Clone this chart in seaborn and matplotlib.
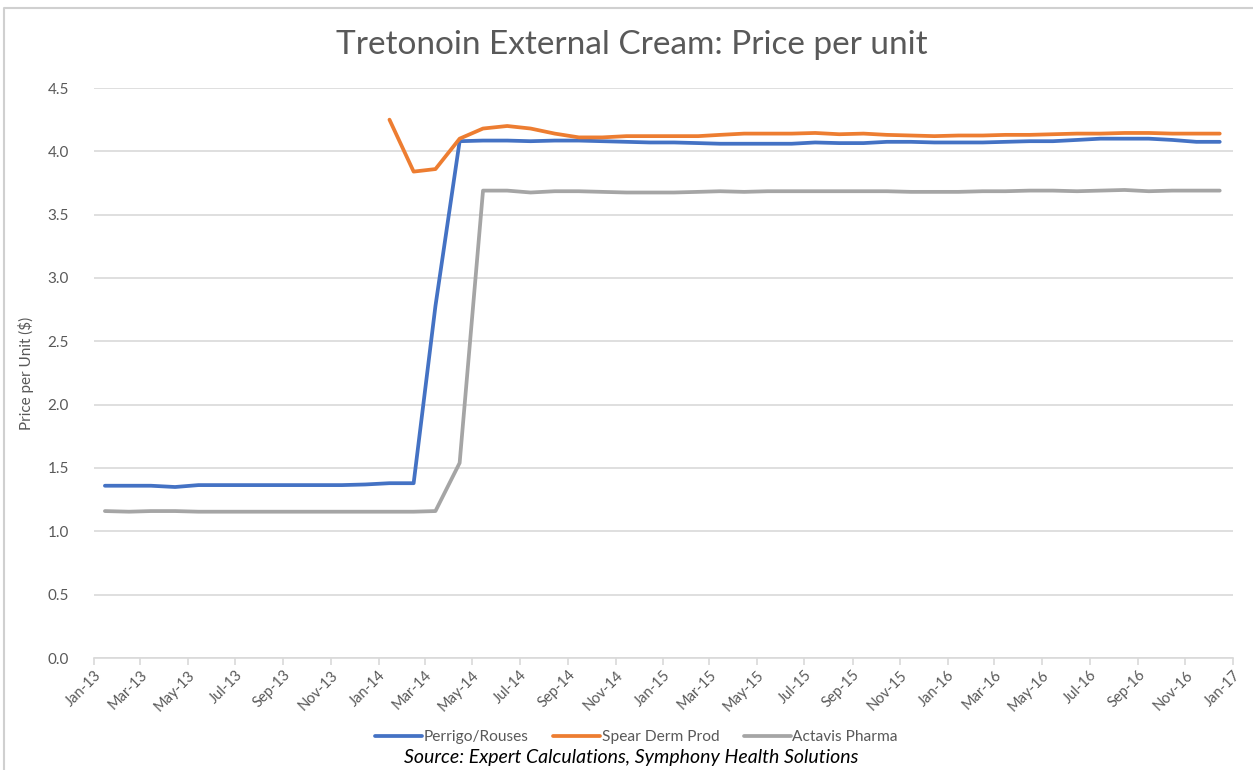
import numpy as np
import pandas as pd
import matplotlib
matplotlib.use("Agg")
import matplotlib.pyplot as plt
import matplotlib.dates as mdates
import seaborn as sns

# ---- data (monthly, Jan-2013 .. Dec-2016, plotted mid-month) ----
months = pd.date_range("2013-01-01", periods=48, freq="MS") + pd.Timedelta(days=14)

perrigo = [1.36, 1.36, 1.36, 1.35, 1.365, 1.365, 1.365, 1.365, 1.365, 1.365, 1.365, 1.37,
           1.38, 1.38, 2.78, 4.08,
           4.085, 4.085, 4.08, 4.085, 4.085, 4.08, 4.075, 4.07, 4.07, 4.065, 4.06, 4.06,
           4.06, 4.06, 4.07, 4.065, 4.065, 4.075, 4.075, 4.07, 4.07, 4.07, 4.075, 4.08,
           4.08, 4.09, 4.10, 4.10, 4.10, 4.09, 4.075, 4.075]

spear = [np.nan] * 12 + [4.25, 3.84, 3.86, 4.10, 4.18, 4.20, 4.18, 4.14, 4.11, 4.11,
                         4.12, 4.12, 4.12, 4.12, 4.13, 4.14, 4.14, 4.14, 4.145, 4.135,
                         4.14, 4.13, 4.125, 4.12, 4.125, 4.125, 4.13, 4.13, 4.135, 4.14,
                         4.14, 4.145, 4.145, 4.14, 4.14, 4.14]

actavis = [1.16, 1.155, 1.16, 1.16, 1.155, 1.155, 1.155, 1.155, 1.155, 1.155, 1.155, 1.155,
           1.155, 1.155, 1.16, 1.54,
           3.69, 3.69, 3.675, 3.685, 3.685, 3.68, 3.675, 3.675, 3.675, 3.68, 3.685, 3.68,
           3.685, 3.685, 3.685, 3.685, 3.685, 3.685, 3.68, 3.68, 3.68, 3.685, 3.685, 3.69,
           3.69, 3.685, 3.69, 3.695, 3.685, 3.69, 3.69, 3.69]

series_names = ["Perrigo/Rouses", "Spear Derm Prod", "Actavis Pharma"]
colors = ["#4472C4", "#ED7D31", "#A5A5A5"]

df = pd.concat([
    pd.DataFrame({"date": months, "price": perrigo, "company": series_names[0]}),
    pd.DataFrame({"date": months, "price": spear, "company": series_names[1]}),
    pd.DataFrame({"date": months, "price": actavis, "company": series_names[2]}),
]).dropna()

sns.set_theme(style="white")
plt.rcParams["font.family"] = ["Lato", "DejaVu Sans"]

fig = plt.figure(figsize=(12.53, 7.70), dpi=100)
ax = fig.add_axes([94 / 1253, 1 - 658 / 770, (1233 - 94) / 1253, (658 - 88) / 770])

sns.lineplot(data=df, x="date", y="price", hue="company", hue_order=series_names,
             palette=colors, linewidth=2.7, ax=ax, legend=False, estimator=None)

ax.set_xlim(pd.Timestamp("2013-01-01"), pd.Timestamp("2017-01-01"))
ax.set_ylim(0, 4.5)
ax.set_yticks(np.arange(0, 4.51, 0.5))
ax.yaxis.set_major_formatter(matplotlib.ticker.FormatStrFormatter("%.1f"))
ax.xaxis.set_major_locator(mdates.MonthLocator(bymonth=[1, 3, 5, 7, 9, 11]))
ax.xaxis.set_major_formatter(mdates.DateFormatter("%b-%y"))

ax.grid(axis="y", color="#D9D9D9", linewidth=1.2)
ax.set_axisbelow(True)
for s in ["top", "right", "left"]:
    ax.spines[s].set_visible(False)
ax.spines["bottom"].set_color("#D9D9D9")
ax.spines["bottom"].set_linewidth(1.2)

ax.tick_params(axis="x", bottom=True, length=5, width=1.2, color="#D9D9D9",
               labelsize=10.5, labelcolor="#595959", pad=2)
ax.tick_params(axis="y", left=False, labelsize=11, labelcolor="#595959", pad=12)
for lab in ax.get_xticklabels():
    lab.set_rotation(45)
    lab.set_ha("right")
    lab.set_rotation_mode("anchor")

ax.set_xlabel("")
ax.set_ylabel("Price per Unit ($)", fontsize=11, color="#595959", labelpad=10)

fig.text(0.504, 1 - 45 / 770, "Tretonoin External Cream: Price per unit",
         ha="center", va="center", fontsize=24, color="#595959")

handles = [matplotlib.lines.Line2D([], [], color=c, linewidth=2.7) for c in colors]
fig.legend(handles, series_names, loc="center", bbox_to_anchor=(0.508, 1 - 737 / 770),
           ncol=3, frameon=False, fontsize=11.2, labelcolor="#595959",
           handlelength=3.0, handletextpad=0.1, columnspacing=1.6)

fig.text(0.504, 1 - 758 / 770, "Source: Expert Calculations, Symphony Health Solutions",
         ha="center", va="center", fontsize=14, style="italic", color="black")

fig.add_artist(matplotlib.lines.Line2D([0.003, 0.003, 1.0], [0.0, 0.99, 0.99],
                                       transform=fig.transFigure, color="#D0D0D0", linewidth=1.5))

fig.savefig("out.png", dpi=100)
